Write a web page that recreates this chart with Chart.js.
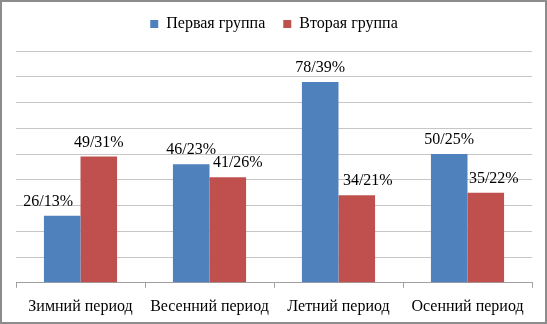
<!DOCTYPE html>
<html>
<head>
<meta charset="utf-8">
<script src="https://cdn.jsdelivr.net/npm/chart.js@4"></script>
<style>
html,body{margin:0;padding:0;background:#fff;}
#wrap{width:547px;height:324px;box-sizing:border-box;border:2px solid #8c8c8c;background:#fff;}
canvas{display:block;}
</style>
</head>
<body>
<div id="wrap"><canvas id="c" width="543" height="320"></canvas></div>
<script>
const categories = ["Зимний период", "Весенний период", "Летний период", "Осенний период"];
const seriesNames = ["Первая группа", "Вторая группа"];
const firstGroup = [26, 46, 78, 50];
const secondGroup = [49, 41, 34, 35];
const firstLabels = ["26/13%", "46/23%", "78/39%", "50/25%"];
const secondLabels = ["49/31%", "41/26%", "34/21%", "35/22%"];
const yTicks = [0, 10, 20, 30, 40, 50, 60, 70, 80, 90];

const FONT = "'Liberation Serif', 'Times New Roman', serif";

const valueLabelPlugin = {
  id: 'valueLabels',
  afterDatasetsDraw(chart, args, opts) {
    const ctx = chart.ctx;
    ctx.save();
    ctx.font = "16px " + FONT;
    ctx.fillStyle = "#000";
    ctx.textAlign = "center";
    ctx.textBaseline = "alphabetic";
    chart.data.datasets.forEach((ds, di) => {
      const meta = chart.getDatasetMeta(di);
      meta.data.forEach((bar, i) => {
        const dx = (opts.shiftX[di] || [])[i] || 0;
        ctx.fillText(ds.valueLabels[i], bar.x + dx, bar.y - 10);
      });
    });
    ctx.restore();
  }
};

const legendSpacing = {
  id: 'legendSpacing',
  beforeInit(chart, args, opts) {
    const orig = chart.legend.fit;
    chart.legend.fit = function () {
      orig.bind(chart.legend)();
      this.height += opts.extra;
    };
  }
};

new Chart(document.getElementById('c'), {
  type: 'bar',
  data: {
    labels: categories,
    datasets: [
      { label: seriesNames[0], data: firstGroup, valueLabels: firstLabels, backgroundColor: '#4F81BD', borderWidth: 0 },
      { label: seriesNames[1], data: secondGroup, valueLabels: secondLabels, backgroundColor: '#C0504D', borderWidth: 0 }
    ]
  },
  options: {
    responsive: false,
    animation: false,
    devicePixelRatio: 1,
    layout: { padding: { left: 14, right: 13, top: -4, bottom: -3 } },
    datasets: { bar: { categoryPercentage: 0.567, barPercentage: 1.0 } },
    scales: {
      x: {
        grid: { drawOnChartArea: false, drawTicks: true, tickLength: 5, color: '#a0a0a0', offset: true },
        border: { display: true, color: '#a0a0a0' },
        ticks: { font: { family: FONT, size: 16 }, color: '#000', padding: 9, maxRotation: 0, autoSkip: false }
      },
      y: {
        min: yTicks[0],
        max: yTicks[yTicks.length - 1],
        afterBuildTicks(scale) { scale.ticks = yTicks.map(v => ({ value: v })); },
        ticks: { display: false },
        grid: { color: '#c6c6c6', drawTicks: false },
        border: { display: false }
      }
    },
    plugins: {
      legend: {
        position: 'top',
        labels: { font: { family: FONT, size: 16 }, color: '#000', boxWidth: 8, boxHeight: 8, padding: 18 }
      },
      legendSpacing: { extra: 9 },
      tooltip: { enabled: false },
      valueLabels: { shiftX: [[-14, 0, 0, 0], [0, 10, 11, 8]] }
    }
  },
  plugins: [valueLabelPlugin, legendSpacing]
});
</script>
</body>
</html>
